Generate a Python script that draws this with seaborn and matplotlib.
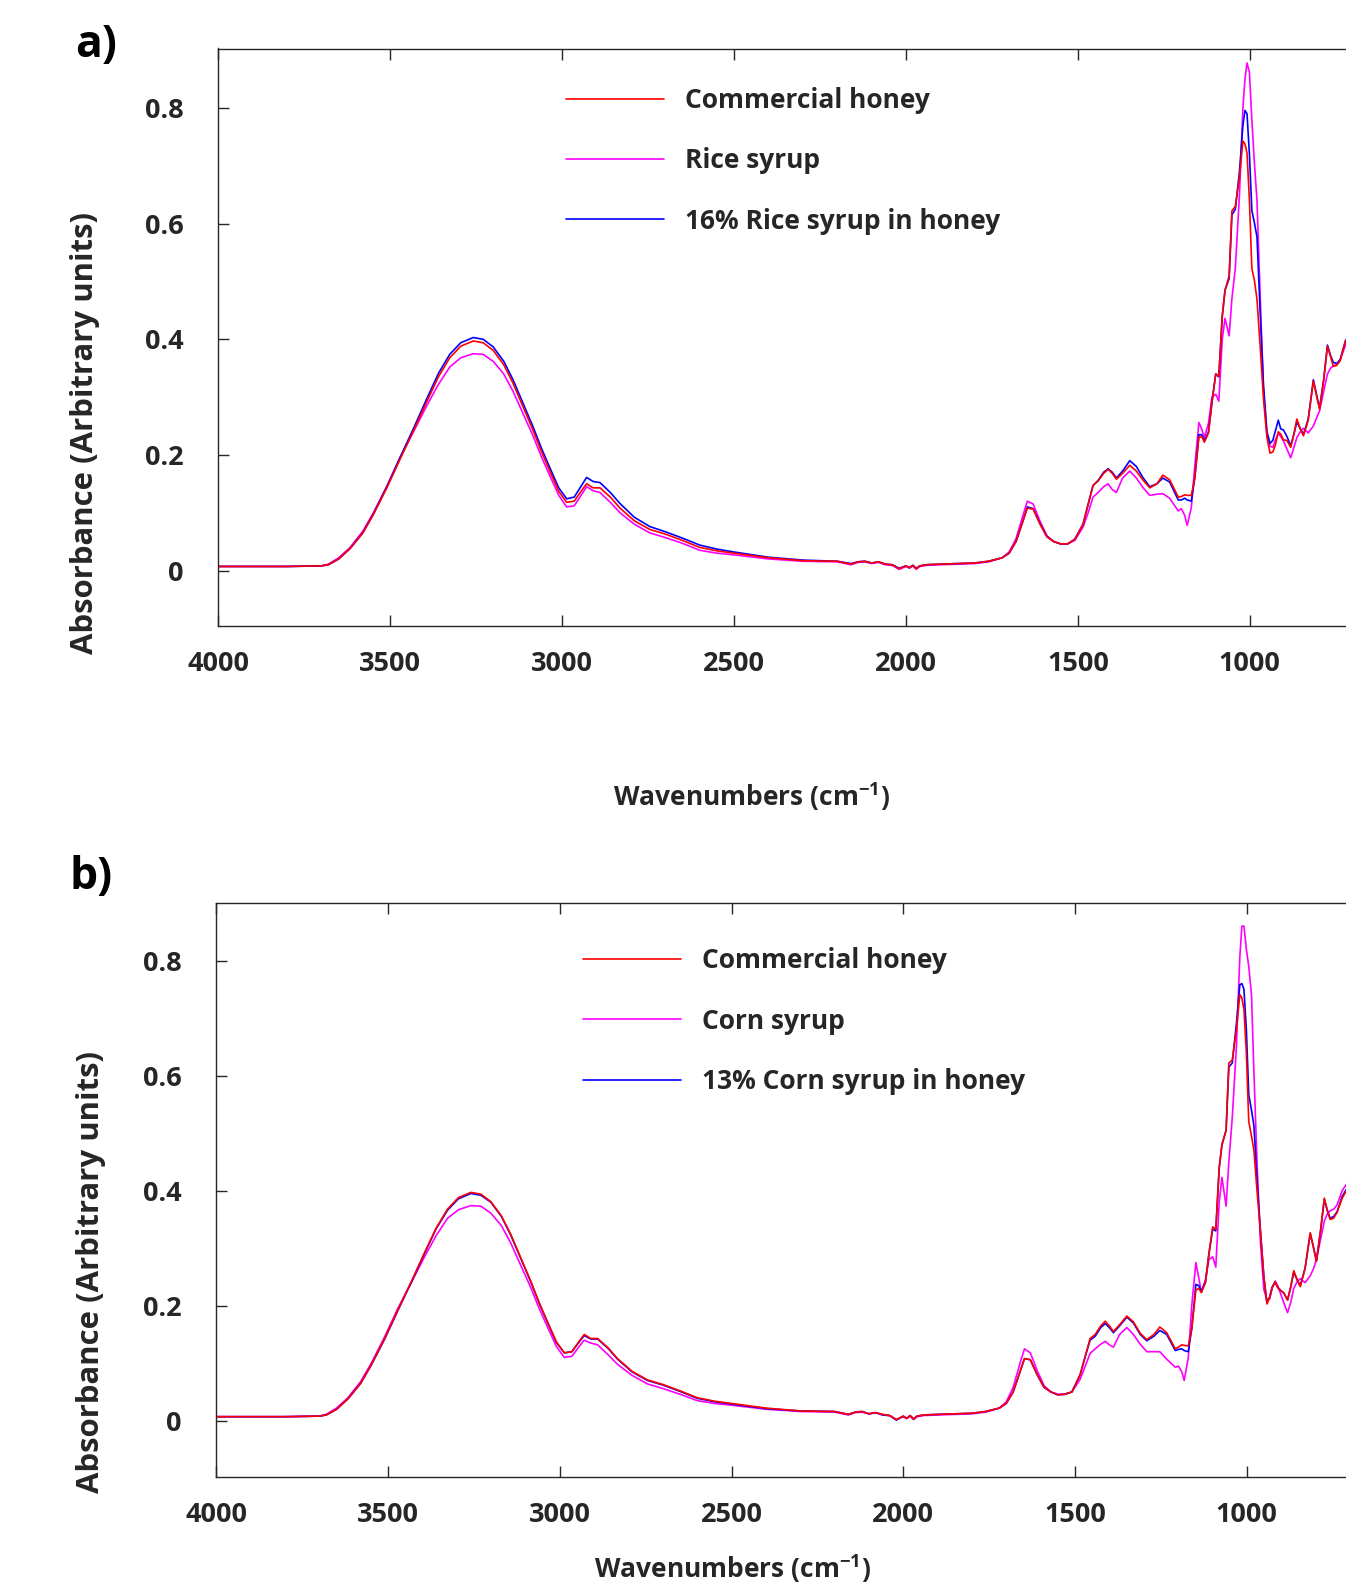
import numpy as np
import pandas as pd
import matplotlib
matplotlib.use("Agg")
import matplotlib.pyplot as plt
import seaborn as sns

# ---------------- data ----------------
wavenumbers = [4000, 3800, 3700, 3680, 3650, 3617, 3580, 3549, 3510, 3472, 3430, 3394, 3360, 3327, 3295,
               3259, 3230, 3201, 3170, 3143, 3115, 3085, 3060, 3036, 3010, 2987, 2965, 2945, 2929, 2910,
               2890, 2860, 2832, 2790, 2745, 2700, 2650, 2600, 2550, 2500, 2400, 2300, 2200, 2160, 2140,
               2120, 2100, 2080, 2060, 2040, 2020, 2000, 1990, 1980, 1970, 1960, 1940, 1900, 1850, 1800,
               1760, 1720, 1700, 1680, 1660, 1647, 1630, 1610, 1590, 1570, 1550, 1530, 1509, 1485, 1470,
               1456, 1441, 1425, 1412, 1400, 1388, 1370, 1349, 1330, 1310, 1291, 1270, 1253, 1233, 1208,
               1199, 1189, 1182, 1170, 1160, 1148, 1140, 1132, 1120, 1110, 1099, 1090, 1080, 1072, 1060,
               1052, 1042, 1030, 1020, 1014, 1008, 1001, 994, 986, 979, 970, 960, 950, 941, 933,
               926, 917, 910, 902, 892, 881, 872, 863, 853, 844, 830, 815, 805, 797, 785,
               774, 765, 757, 747, 737, 722, 700, 650]

honey_a = [0.007, 0.007, 0.008, 0.010, 0.020, 0.038, 0.065, 0.097, 0.143, 0.192, 0.245, 0.292, 0.335, 0.368, 0.388,
           0.397, 0.394, 0.381, 0.356, 0.324, 0.285, 0.243, 0.205, 0.172, 0.137, 0.118, 0.120, 0.137, 0.150, 0.143,
           0.143, 0.127, 0.108, 0.086, 0.071, 0.063, 0.052, 0.040, 0.034, 0.030, 0.022, 0.017, 0.016, 0.011, 0.015,
           0.016, 0.013, 0.015, 0.011, 0.010, 0.003, 0.008, 0.005, 0.009, 0.003, 0.008, 0.010, 0.011, 0.012, 0.013,
           0.016, 0.022, 0.030, 0.050, 0.085, 0.108, 0.106, 0.080, 0.058, 0.050, 0.046, 0.046, 0.054, 0.080, 0.115,
           0.147, 0.155, 0.168, 0.175, 0.168, 0.158, 0.168, 0.182, 0.172, 0.156, 0.143, 0.150, 0.165, 0.157, 0.127,
           0.128, 0.131, 0.130, 0.130, 0.160, 0.230, 0.232, 0.222, 0.238, 0.290, 0.340, 0.336, 0.440, 0.485, 0.510,
           0.622, 0.630, 0.680, 0.743, 0.738, 0.722, 0.640, 0.523, 0.500, 0.469, 0.390, 0.296, 0.230, 0.203, 0.205,
           0.216, 0.240, 0.236, 0.226, 0.225, 0.213, 0.235, 0.262, 0.245, 0.233, 0.260, 0.328, 0.300, 0.279, 0.330,
           0.388, 0.370, 0.353, 0.355, 0.363, 0.396, 0.420, 0.440]

rice_a = [0.007, 0.007, 0.008, 0.011, 0.022, 0.040, 0.068, 0.100, 0.146, 0.195, 0.243, 0.285, 0.322, 0.352, 0.368,
          0.375, 0.374, 0.362, 0.340, 0.310, 0.273, 0.233, 0.196, 0.164, 0.130, 0.110, 0.112, 0.130, 0.145, 0.138,
          0.135, 0.118, 0.100, 0.080, 0.065, 0.057, 0.047, 0.035, 0.030, 0.027, 0.020, 0.016, 0.015, 0.010, 0.014,
          0.015, 0.012, 0.014, 0.010, 0.009, 0.002, 0.007, 0.004, 0.008, 0.002, 0.007, 0.009, 0.010, 0.011, 0.012,
          0.015, 0.022, 0.032, 0.055, 0.095, 0.120, 0.115, 0.085, 0.060, 0.050, 0.046, 0.046, 0.052, 0.075, 0.100,
          0.127, 0.135, 0.145, 0.150, 0.140, 0.135, 0.160, 0.172, 0.160, 0.143, 0.130, 0.132, 0.133, 0.125, 0.103,
          0.107, 0.095, 0.078, 0.109, 0.180, 0.256, 0.245, 0.230, 0.255, 0.300, 0.305, 0.293, 0.400, 0.436, 0.406,
          0.470, 0.523, 0.650, 0.800, 0.850, 0.878, 0.862, 0.780, 0.700, 0.640, 0.480, 0.310, 0.235, 0.215, 0.213,
          0.225, 0.237, 0.232, 0.224, 0.210, 0.195, 0.212, 0.230, 0.240, 0.246, 0.238, 0.250, 0.265, 0.276, 0.310,
          0.340, 0.350, 0.354, 0.356, 0.365, 0.389, 0.410, 0.440]

mix_a = [0.007, 0.007, 0.008, 0.010, 0.020, 0.038, 0.065, 0.098, 0.145, 0.195, 0.249, 0.297, 0.341, 0.374, 0.394,
         0.403, 0.400, 0.387, 0.362, 0.330, 0.291, 0.249, 0.211, 0.178, 0.143, 0.124, 0.127, 0.146, 0.161, 0.154,
         0.152, 0.135, 0.116, 0.092, 0.076, 0.067, 0.056, 0.044, 0.037, 0.032, 0.023, 0.018, 0.016, 0.012, 0.015,
         0.016, 0.013, 0.015, 0.011, 0.010, 0.004, 0.008, 0.005, 0.009, 0.004, 0.008, 0.010, 0.011, 0.012, 0.013,
         0.016, 0.022, 0.030, 0.050, 0.085, 0.110, 0.107, 0.081, 0.059, 0.050, 0.046, 0.046, 0.054, 0.080, 0.115,
         0.147, 0.156, 0.170, 0.176, 0.170, 0.160, 0.172, 0.190, 0.180, 0.160, 0.145, 0.150, 0.160, 0.153, 0.122,
         0.122, 0.125, 0.122, 0.120, 0.160, 0.235, 0.235, 0.225, 0.240, 0.292, 0.340, 0.335, 0.440, 0.485, 0.505,
         0.615, 0.625, 0.690, 0.770, 0.796, 0.790, 0.720, 0.623, 0.600, 0.577, 0.450, 0.320, 0.240, 0.220, 0.225,
         0.240, 0.260, 0.245, 0.243, 0.232, 0.216, 0.235, 0.257, 0.245, 0.235, 0.262, 0.330, 0.302, 0.281, 0.330,
         0.390, 0.372, 0.360, 0.358, 0.365, 0.397, 0.420, 0.440]

honey_b = [0.007, 0.007, 0.008, 0.010, 0.020, 0.038, 0.065, 0.097, 0.143, 0.192, 0.245, 0.292, 0.335, 0.368, 0.388,
           0.397, 0.394, 0.381, 0.356, 0.324, 0.285, 0.243, 0.205, 0.172, 0.137, 0.118, 0.120, 0.137, 0.150, 0.143,
           0.143, 0.127, 0.108, 0.086, 0.071, 0.063, 0.052, 0.040, 0.034, 0.030, 0.022, 0.017, 0.016, 0.011, 0.015,
           0.016, 0.012, 0.014, 0.011, 0.009, 0.002, 0.008, 0.004, 0.009, 0.003, 0.008, 0.010, 0.011, 0.012, 0.013,
           0.016, 0.022, 0.030, 0.050, 0.085, 0.108, 0.106, 0.080, 0.058, 0.050, 0.045, 0.046, 0.050, 0.080, 0.112,
           0.143, 0.150, 0.165, 0.173, 0.165, 0.155, 0.167, 0.182, 0.172, 0.152, 0.141, 0.150, 0.163, 0.153, 0.125,
           0.128, 0.132, 0.131, 0.130, 0.160, 0.227, 0.230, 0.223, 0.240, 0.290, 0.337, 0.333, 0.440, 0.480, 0.505,
           0.622, 0.627, 0.680, 0.741, 0.735, 0.715, 0.640, 0.520, 0.495, 0.470, 0.400, 0.330, 0.250, 0.203, 0.215,
           0.232, 0.241, 0.232, 0.227, 0.222, 0.210, 0.232, 0.261, 0.245, 0.233, 0.265, 0.327, 0.300, 0.277, 0.330,
           0.387, 0.365, 0.350, 0.352, 0.362, 0.387, 0.410, 0.440]

corn_b = [0.007, 0.007, 0.008, 0.011, 0.022, 0.040, 0.068, 0.100, 0.146, 0.195, 0.243, 0.285, 0.322, 0.352, 0.367,
          0.374, 0.373, 0.361, 0.339, 0.309, 0.272, 0.232, 0.195, 0.163, 0.129, 0.110, 0.112, 0.128, 0.140, 0.135,
          0.132, 0.115, 0.098, 0.079, 0.064, 0.056, 0.046, 0.035, 0.030, 0.027, 0.020, 0.016, 0.015, 0.010, 0.014,
          0.015, 0.012, 0.014, 0.010, 0.009, 0.002, 0.007, 0.004, 0.008, 0.002, 0.007, 0.009, 0.010, 0.011, 0.012,
          0.015, 0.022, 0.033, 0.058, 0.100, 0.125, 0.118, 0.087, 0.061, 0.050, 0.046, 0.046, 0.050, 0.072, 0.095,
          0.117, 0.125, 0.133, 0.138, 0.132, 0.128, 0.150, 0.162, 0.150, 0.133, 0.120, 0.120, 0.120, 0.107, 0.093,
          0.095, 0.085, 0.070, 0.110, 0.200, 0.275, 0.250, 0.223, 0.245, 0.280, 0.285, 0.267, 0.380, 0.423, 0.373,
          0.450, 0.527, 0.650, 0.807, 0.860, 0.860, 0.820, 0.790, 0.740, 0.607, 0.450, 0.310, 0.228, 0.210, 0.212,
          0.230, 0.243, 0.235, 0.222, 0.205, 0.188, 0.205, 0.230, 0.242, 0.247, 0.240, 0.252, 0.265, 0.280, 0.315,
          0.347, 0.360, 0.365, 0.368, 0.375, 0.400, 0.420, 0.440]

mix_b = [0.007, 0.007, 0.008, 0.010, 0.020, 0.038, 0.065, 0.097, 0.142, 0.191, 0.244, 0.291, 0.334, 0.366, 0.386,
         0.395, 0.392, 0.380, 0.355, 0.323, 0.284, 0.242, 0.204, 0.171, 0.136, 0.118, 0.120, 0.136, 0.148, 0.142,
         0.142, 0.126, 0.107, 0.085, 0.070, 0.062, 0.051, 0.039, 0.033, 0.029, 0.021, 0.017, 0.016, 0.011, 0.015,
         0.016, 0.012, 0.014, 0.010, 0.009, 0.001, 0.008, 0.004, 0.009, 0.003, 0.008, 0.010, 0.011, 0.012, 0.013,
         0.016, 0.022, 0.030, 0.050, 0.085, 0.108, 0.106, 0.080, 0.058, 0.050, 0.045, 0.046, 0.050, 0.080, 0.112,
         0.140, 0.147, 0.162, 0.169, 0.162, 0.153, 0.165, 0.180, 0.170, 0.150, 0.139, 0.147, 0.157, 0.150, 0.122,
         0.124, 0.125, 0.122, 0.120, 0.160, 0.237, 0.235, 0.225, 0.242, 0.290, 0.333, 0.330, 0.440, 0.480, 0.505,
         0.615, 0.622, 0.690, 0.758, 0.760, 0.750, 0.680, 0.567, 0.540, 0.513, 0.420, 0.330, 0.250, 0.205, 0.215,
         0.232, 0.241, 0.232, 0.227, 0.222, 0.210, 0.232, 0.258, 0.245, 0.235, 0.265, 0.325, 0.300, 0.278, 0.330,
         0.385, 0.365, 0.352, 0.355, 0.363, 0.390, 0.412, 0.440]

labels_a = ["Commercial honey", "Rice syrup", "16% Rice syrup in honey"]
labels_b = ["Commercial honey", "Corn syrup", "13% Corn syrup in honey"]
series_colors = ["#ff0000", "#ff00ff", "#0000ff"]
x_ticks = [4000, 3500, 3000, 2500, 2000, 1500, 1000]
x_ticklabels = ["4000", "3500", "3000", "2500", "2000", "1500", "1000"]
y_ticks = [0, 0.2, 0.4, 0.6, 0.8]
y_ticklabels = ["0", "0.2", "0.4", "0.6", "0.8"]

# ---------------- style ----------------
sns.set_theme(style="ticks")
plt.rcParams["font.family"] = ["Open Sans", "DejaVu Sans"]
plt.rcParams["font.weight"] = "bold"
plt.rcParams["mathtext.fontset"] = "custom"
plt.rcParams["mathtext.rm"] = "Open Sans:bold"
plt.rcParams["mathtext.bf"] = "Open Sans:bold"
plt.rcParams["mathtext.default"] = "bf"

W, H = 1346, 1586
fig = plt.figure(figsize=(W / 100, H / 100), dpi=100)

text_col = "#262626"
tick_font = dict(family=["Open Sans", "DejaVu Sans"], weight="bold", size=19.5)

panels = [
    dict(rect=[218.4 / W, 1 - 626.0 / H, 1151.7 / W, 577.5 / H], ylim=(-0.096, 0.903),
         series=[honey_a, rice_a, mix_a], labels=labels_a,
         ylab=(-0.103, 0.334), leg=(0.302, 0.933), xlab=(752 / W, 1 - 797 / H),
         tag="a)", tagpos=(96 / W, 1 - 46 / H)),
    dict(rect=[216.4 / W, 1 - 1476.5 / H, 1150.5 / W, 573.4 / H], ylim=(-0.097, 0.900),
         series=[honey_b, corn_b, mix_b], labels=labels_b,
         ylab=(-0.096, 0.357), leg=(0.319, 0.923), xlab=(733 / W, 1 - 1568.5 / H),
         tag="b)", tagpos=(91 / W, 1 - 878 / H)),
]

for p in panels:
    ax = fig.add_axes(p["rect"])
    # draw syrup first, mixture, then honey on top
    for idx in [1, 2, 0]:
        df = pd.DataFrame({"wn": wavenumbers, "A": p["series"][idx]})
        sns.lineplot(data=df, x="wn", y="A", ax=ax, color=series_colors[idx],
                     linewidth=1.2, estimator=None, sort=False, label=p["labels"][idx])
    hl, ll = ax.get_legend_handles_labels()
    order = [ll.index(l) for l in p["labels"]]
    ax.legend([hl[i] for i in order], [ll[i] for i in order],
              loc="upper left", bbox_to_anchor=p["leg"], frameon=False,
              borderpad=0, borderaxespad=0, handlelength=3.7, handletextpad=0.8,
              labelspacing=1.26, prop=dict(family="Open Sans", weight="bold", size=19))

    ax.set_xticks(x_ticks)
    ax.set_xticklabels(x_ticklabels, fontdict=tick_font)
    ax.set_yticks(y_ticks)
    ax.set_yticklabels(y_ticklabels, fontdict=tick_font)
    ax.set_xlim(4000, 650)
    ax.set_ylim(*p["ylim"])
    ax.tick_params(axis="x", direction="in", top=True, length=8, width=1.0,
                   pad=18, colors=text_col)
    ax.tick_params(axis="y", direction="in", length=8, width=1.0,
                   pad=25, colors=text_col)
    for s in ax.spines.values():
        s.set_color(text_col)
        s.set_linewidth(1.0)
    ax.set_xlabel("")
    ax.set_ylabel("Absorbance (Arbitrary units)", fontsize=22.4, fontweight="bold",
                  color=text_col)
    ax.yaxis.set_label_coords(*p["ylab"])
    fig.text(p["xlab"][0], p["xlab"][1], r"Wavenumbers (cm$^{-1}$)", ha="center", va="center",
             fontsize=19, fontweight="bold", color=text_col)
    fig.text(p["tagpos"][0], p["tagpos"][1], p["tag"], ha="center", va="center",
             fontsize=32, fontweight="bold", color="black")

fig.savefig("out.png", dpi=100)
